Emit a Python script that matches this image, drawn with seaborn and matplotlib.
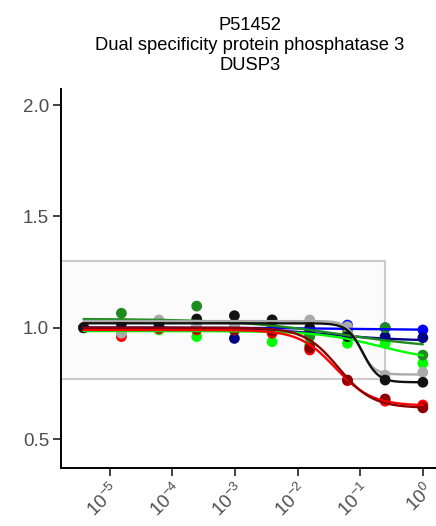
import numpy as np
import pandas as pd
import matplotlib
matplotlib.use("Agg")
import matplotlib.pyplot as plt
import matplotlib.ticker as mticker
from matplotlib.patches import Rectangle
import seaborn as sns

# ---------------- data ----------------
title_lines = ["P51452", "Dual specificity protein phosphatase 3", "DUSP3"]

conc = [3.81e-6, 1.53e-5, 6.10e-5, 2.44e-4, 9.77e-4, 3.91e-3, 1.56e-2, 6.25e-2, 0.25, 1.0]

series_names = ["blue", "darkblue", "lime", "darkgreen", "red", "darkred", "gray", "black"]
series_colors = ["#0000FF", "#00008B", "#00FF00", "#1E8B1E", "#FF0000", "#8B0000", "#AAAAAA", "#111111"]

blue      = [1.00, 0.99, 1.00, 1.00, 0.99, 0.99, 0.99, 1.012, 1.00, 0.99]
darkblue  = [1.00, 0.99, 1.00, 1.00, 0.952, 0.99, 0.97, 0.97, 0.96, 0.955]
lime      = [1.00, 0.965, 0.99, 0.96, 0.99, 0.937, 0.922, 0.93, 0.93, 0.84]
darkgreen = [1.00, 1.065, 1.00, 1.097, 1.003, 1.005, 0.96, 0.99, 1.00, 0.877]
red       = [1.00, 0.96, 0.995, 0.99, 0.99, 0.975, 0.90, 0.762, 0.67, 0.653]
darkred   = [1.00, 0.99, 1.00, 0.995, 0.99, 0.985, 0.91, 0.765, 0.68, 0.64]
gray      = [1.00, 0.975, 1.035, 1.01, 1.01, 1.035, 1.035, 1.005, 0.787, 0.80]
black     = [1.00, 1.017, 1.015, 1.039, 1.054, 1.035, 1.00, 0.96, 0.765, 0.755]
values = [blue, darkblue, lime, darkgreen, red, darkred, gray, black]

# fitted dose-response curve parameters per series (top, bottom, EC50, slope)
fit_top    = [1.00, 1.00, 0.985, 1.04, 0.99, 1.00, 1.03, 1.02]
fit_bottom = [0.99, 0.94, 0.85, 0.90, 0.65, 0.64, 0.79, 0.755]
fit_ec50   = [0.05, 0.03, 0.20, 0.05, 0.04, 0.045, 0.10, 0.11]
fit_slope  = [0.6, 0.7, 0.9, 0.5, 1.5, 1.6, 4.0, 3.5]

box_y = [0.77, 1.30]
box_x_max = 0.25

yticks = [0.5, 1.0, 1.5, 2.0]
xticks = [1e-5, 1e-4, 1e-3, 1e-2, 1e-1, 1e0]

# ---------------- build tables ----------------
pts = pd.DataFrame(
    [(n, c, v) for n, vals in zip(series_names, values) for c, v in zip(conc, vals)],
    columns=["series", "conc", "ratio"],
)
grid = np.logspace(np.log10(conc[0]), np.log10(conc[-1]), 300)
rows = []
for n, t, b, e, h in zip(series_names, fit_top, fit_bottom, fit_ec50, fit_slope):
    yv = b + (t - b) / (1.0 + (grid / e) ** h)
    rows += [(n, g, y) for g, y in zip(grid, yv)]
curves = pd.DataFrame(rows, columns=["series", "conc", "ratio"])
palette = dict(zip(series_names, series_colors))

# ---------------- plot ----------------
sns.set_style("white")
plt.rcParams["font.family"] = ["Liberation Sans", "DejaVu Sans"]
plt.rcParams["mathtext.fontset"] = "custom"
plt.rcParams["mathtext.rm"] = "Liberation Sans"
plt.rcParams["mathtext.it"] = "Liberation Sans:italic"
plt.rcParams["mathtext.bf"] = "Liberation Sans:bold"

fig = plt.figure(figsize=(4.36, 5.26), dpi=100)
W, H = 436, 526
ax = fig.add_axes([61 / W, 1 - 468 / H, (436 - 61) / W, (468 - 89) / H])
ax.set_xscale("log")
ax.set_xlim(10 ** -5.78, 10 ** 0.21)
ax.set_ylim(0.37, 2.072)

ax.add_patch(Rectangle((1e-8, box_y[0]), box_x_max - 1e-8, box_y[1] - box_y[0],
                       facecolor="#FBFBFB", edgecolor="#CCCCCC", lw=1.5, zorder=0.5))

sns.scatterplot(data=pts, x="conc", y="ratio", hue="series", hue_order=series_names,
                palette=palette, s=60, linewidth=0, legend=False, ax=ax, zorder=2)
sns.lineplot(data=curves, x="conc", y="ratio", hue="series", hue_order=series_names,
             palette=palette, lw=1.7, legend=False, ax=ax, estimator=None, sort=True, zorder=3)

ax.set_xlabel("")
ax.set_ylabel("")
ax.xaxis.set_major_locator(mticker.FixedLocator(xticks))
ax.xaxis.set_minor_locator(mticker.NullLocator())
ax.xaxis.set_major_formatter(mticker.LogFormatterSciNotation())
ax.set_yticks(yticks)
ax.set_yticklabels([f"{v:.1f}" for v in yticks])

for s in ["top", "right"]:
    ax.spines[s].set_visible(False)
for s in ["left", "bottom"]:
    ax.spines[s].set_color("black")
    ax.spines[s].set_linewidth(1.4)

ax.tick_params(axis="both", which="major", length=5.5, width=1.3, color="#333333",
               labelcolor="#4D4D4D", labelsize=13.5, pad=3, left=True, bottom=True)
for lab in ax.get_xticklabels():
    lab.set_rotation(45)
    lab.set_ha("right")
    lab.set_va("top")
    lab.set_rotation_mode("anchor")

xc = 250 / W
for i, line in enumerate(title_lines):
    fig.text(xc, 1 - (30 + 20 * i) / H, line, ha="center", va="baseline",
             fontsize=13.2, color="black")

fig.savefig("out.png", dpi=100, facecolor="white")
